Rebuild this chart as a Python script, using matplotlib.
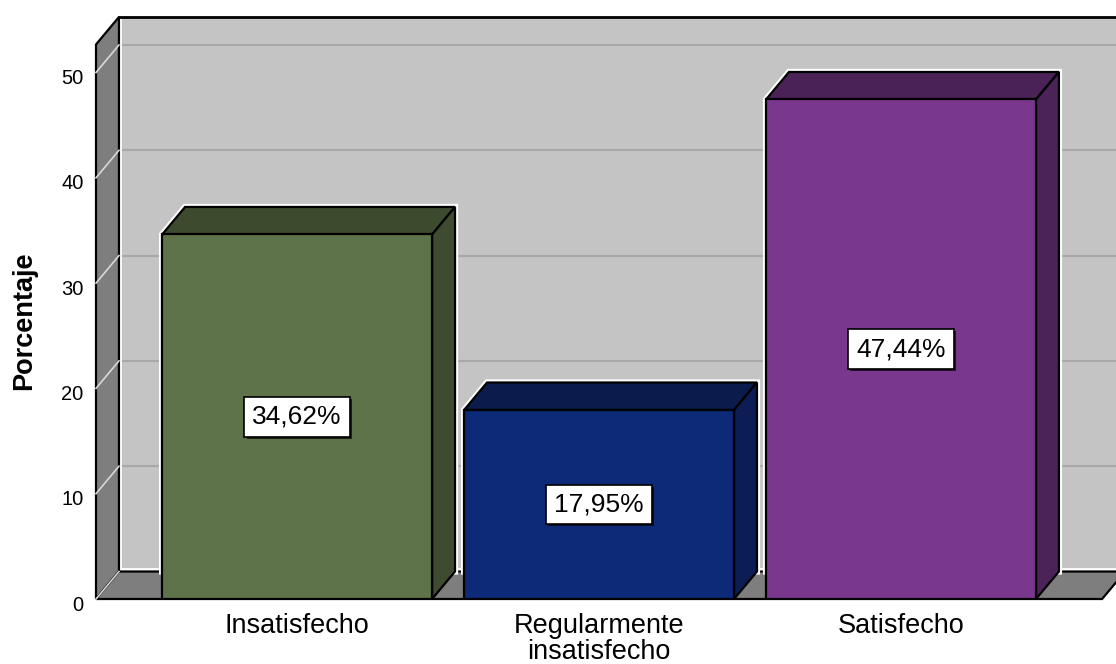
from __future__ import annotations

# Se importa matplotlib para dibujar el gráfico de barras con efecto 3D.
import matplotlib.pyplot as plt
from matplotlib import patheffects
from matplotlib.patches import Polygon
from matplotlib.transforms import ScaledTranslation

# Datos del gráfico.
CATEGORIAS = ["Insatisfecho", "Regularmente\ninsatisfecho", "Satisfecho"]
PORCENTAJES = [34.62, 17.95, 47.44]
MARCAS_Y = [0, 10, 20, 30, 40, 50]

# Estilo de cada barra: cara frontal, tapa superior y lateral.
COLORES_FRENTE = ["#5e7349", "#0c2a78", "#7a378e"]
COLORES_TAPA = ["#3c4a2e", "#0a1b4c", "#4a2257"]
COLORES_LADO = ["#3e4b30", "#0b1d54", "#4b2359"]
GRIS_FONDO = "#c4c4c4"
GRIS_LATERAL = "#7e7e7e"
FUENTE = ["Liberation Sans", "DejaVu Sans"]

# Geometría del efecto de profundidad (unidades de los ejes).
ANCHO_BARRA = 0.894
PROF_X = 0.076
PROF_Y = 2.61
X_MIN, X_MAX = -0.666, 2.666
X_LIMITE = 2.712
Y_TECHO = 52.66


def dibujar_paredes(ax) -> None:
    """Dibujar pared del fondo, pared izquierda y suelo."""
    # Pared del fondo.
    ax.add_patch(Polygon(
        [(X_MIN + PROF_X, PROF_Y), (X_MAX + 1, PROF_Y),
         (X_MAX + 1, Y_TECHO + PROF_Y), (X_MIN + PROF_X, Y_TECHO + PROF_Y)],
        facecolor=GRIS_FONDO, edgecolor="none", zorder=0))
    # Rejilla horizontal de la pared del fondo.
    for valor in MARCAS_Y[1:]:
        ax.plot([X_MIN + PROF_X, X_MAX + 1], [valor + PROF_Y] * 2,
                color="#a8a8a8", lw=1.5, zorder=1)
    # Brillo blanco interior en el borde de la pared.
    ax.plot([X_MIN + PROF_X + 0.005, X_MIN + PROF_X + 0.005, X_MAX + 1],
            [Y_TECHO + PROF_Y, PROF_Y + 0.25, PROF_Y + 0.25],
            color="white", lw=2, zorder=1.5)
    # Borde superior negro.
    ax.plot([X_MIN + PROF_X, X_MAX + 1], [Y_TECHO + PROF_Y] * 2,
            color="black", lw=2, zorder=2, clip_on=False)
    # Pared izquierda.
    ax.add_patch(Polygon(
        [(X_MIN, 0), (X_MIN, Y_TECHO), (X_MIN + PROF_X, Y_TECHO + PROF_Y),
         (X_MIN + PROF_X, PROF_Y)],
        facecolor=GRIS_LATERAL, edgecolor="black", lw=1.6, zorder=2,
        clip_on=False, joinstyle="miter"))
    # Suelo.
    ax.add_patch(Polygon(
        [(X_MIN, 0), (X_MAX, 0), (X_MAX + PROF_X, PROF_Y), (X_MIN + PROF_X, PROF_Y)],
        facecolor=GRIS_LATERAL, edgecolor="black", lw=1.6, zorder=2,
        clip_on=False, joinstyle="miter"))
    # Líneas diagonales de la rejilla en la pared izquierda.
    for valor in MARCAS_Y:
        ax.plot([X_MIN, X_MIN + PROF_X], [valor, valor + PROF_Y],
                color="#d8d8d8", lw=1.2, zorder=3, clip_on=False)


def dibujar_barras(ax) -> None:
    """Dibujar cada barra con cara frontal, tapa y lateral."""
    for posicion, valor in enumerate(PORCENTAJES):
        x_izq = posicion - ANCHO_BARRA / 2
        x_der = posicion + ANCHO_BARRA / 2
        # Halo blanco sobre la pared del fondo.
        ax.plot([x_izq, x_izq, x_izq + PROF_X, x_der + PROF_X, x_der + PROF_X],
                [PROF_Y, valor, valor + PROF_Y, valor + PROF_Y, PROF_Y],
                color="white", lw=4.5, zorder=4, solid_joinstyle="miter")
        estilo = dict(edgecolor="black", lw=1.6, zorder=5, joinstyle="miter")
        # Tapa superior.
        ax.add_patch(Polygon(
            [(x_izq, valor), (x_der, valor), (x_der + PROF_X, valor + PROF_Y),
             (x_izq + PROF_X, valor + PROF_Y)],
            facecolor=COLORES_TAPA[posicion], **estilo))
        # Lateral derecho.
        ax.add_patch(Polygon(
            [(x_der, 0), (x_der + PROF_X, PROF_Y), (x_der + PROF_X, valor + PROF_Y),
             (x_der, valor)],
            facecolor=COLORES_LADO[posicion], **estilo))
        # Cara frontal.
        ax.add_patch(Polygon(
            [(x_izq, 0), (x_der, 0), (x_der, valor), (x_izq, valor)],
            facecolor=COLORES_FRENTE[posicion], **estilo))
        # Etiqueta con el porcentaje.
        texto = ax.text(posicion, valor / 2, f"{valor:.2f}%".replace(".", ","),
                        ha="center", va="center", fontsize=19, family=FUENTE,
                        zorder=6,
                        bbox=dict(boxstyle="square,pad=0.3", facecolor="white",
                                  edgecolor="black", lw=1.2))
        texto.get_bbox_patch().set_path_effects([
            patheffects.SimplePatchShadow(offset=(1.5, -1.5), shadow_rgbFace="black",
                                          alpha=0.7),
            patheffects.Normal(),
        ])


fig = plt.figure(figsize=(11.16, 6.64), dpi=100)
ax = fig.add_axes([96 / 1116, 65 / 664, 1020 / 1116, 582 / 664])
ax.set_xlim(X_MIN, X_LIMITE)
ax.set_ylim(0, Y_TECHO + PROF_Y)
for lado in ax.spines.values():
    lado.set_visible(False)

dibujar_paredes(ax)
dibujar_barras(ax)

# Rótulos de los ejes.
ax.set_xticks(range(len(CATEGORIAS)))
ax.set_xticklabels(CATEGORIAS, fontsize=19.5, family=FUENTE, linespacing=1.0)
ax.set_yticks(MARCAS_Y)
ax.set_yticklabels([str(m) for m in MARCAS_Y], fontsize=14.5, family=FUENTE)
ax.tick_params(axis="x", length=0, pad=10)
ax.tick_params(axis="y", length=0, pad=9)
# Las etiquetas del eje Y aparecen algo por debajo de su línea.
for etiqueta in ax.get_yticklabels():
    etiqueta.set_transform(etiqueta.get_transform()
                           + ScaledTranslation(0, -3 / 72, fig.dpi_scale_trans))
fig.text(24 / 1116, 1 - 321 / 664, "Porcentaje", rotation=90, ha="center",
         va="center", fontsize=19.5, fontweight="bold", family=FUENTE)

fig.savefig("out.png", dpi=100)
plt.close(fig)
